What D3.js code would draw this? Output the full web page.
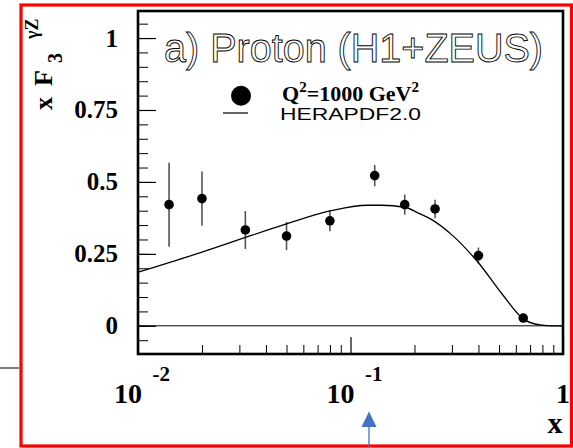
<!DOCTYPE html>
<html>
<head>
<meta charset="utf-8">
<script src="https://cdn.jsdelivr.net/npm/d3@7"></script>
<style>
  html, body { margin: 0; padding: 0; background: #fff; }
  svg { display: block; }
</style>
</head>
<body>
<svg id="chart" width="573" height="448"></svg>
<script>
// Measured xF3^{γZ} at Q^2 = 1000 GeV^2 (H1+ZEUS combined)
const dataX   = [0.014, 0.02, 0.032, 0.05, 0.08, 0.13, 0.18, 0.25, 0.40, 0.65];
const dataY   = [0.421, 0.442, 0.333, 0.312, 0.365, 0.522, 0.421, 0.406, 0.244, 0.027];
const dataErr = [0.146, 0.094, 0.066, 0.049, 0.036, 0.037, 0.035, 0.032, 0.028, 0.008];

// HERAPDF2.0 prediction
const pdfX = [0.01, 0.02, 0.032, 0.05, 0.08, 0.12, 0.14, 0.18, 0.21, 0.24, 0.30, 0.40, 0.52, 0.65, 0.78, 0.90, 1.0];
const pdfY = [0.186, 0.256, 0.307, 0.354, 0.399, 0.419, 0.419, 0.412, 0.391, 0.370, 0.316, 0.219, 0.108, 0.024, 0.003, 0.0, 0.0];

// Axis ticks
const yMajor = [0, 0.25, 0.5, 0.75, 1];
const yMajorLabels = ["0", "0.25", "0.5", "0.75", "1"];
const yMinor = d3.range(-0.05, 1.0501, 0.05);
const xMajor = [0.01, 0.1, 1];
const xMajorLabels = [["10", "-2"], ["10", "-1"], ["1", ""]];
const xMinor = [2,3,4,5,6,7,8,9].flatMap(m => [m * 0.01, m * 0.1]);

const svg = d3.select("#chart");

const x = d3.scaleLog().domain([0.01, 1]).range([138, 563]);
const y = d3.scaleLinear().domain([-0.098, 1.094]).range([354, 11]);

const bold = "'Liberation Serif', 'Times New Roman', serif";
const sans = "'Liberation Sans', Arial, sans-serif";

// Outer red border
svg.append("rect")
  .attr("x", 21).attr("y", 5).attr("width", 550.5).attr("height", 441)
  .attr("fill", "none").attr("stroke", "#ff0000").attr("stroke-width", 3.2);

// Connector line at the left
svg.append("line")
  .attr("x1", 0).attr("x2", 19.5).attr("y1", 368).attr("y2", 368)
  .attr("stroke", "#7f7f7f").attr("stroke-width", 2);

// Arrow at the bottom
svg.append("line")
  .attr("x1", 369).attr("x2", 369).attr("y1", 424).attr("y2", 448)
  .attr("stroke", "#4472c4").attr("stroke-width", 1.3);
svg.append("path")
  .attr("d", "M369,411.5 L376.5,427 L361.5,427 Z")
  .attr("fill", "#4472c4");

// Zero line
svg.append("line")
  .attr("x1", x(0.01)).attr("x2", x(1)).attr("y1", y(0)).attr("y2", y(0))
  .attr("stroke", "#000").attr("stroke-width", 1);

// Y ticks (left side only)
const yAxis = d3.axisRight(y).tickValues(yMinor).tickSize(10).tickFormat("");
svg.append("g").attr("transform", `translate(${x(0.01)},0)`).call(yAxis)
  .call(g => g.select(".domain").remove())
  .call(g => g.selectAll("line").attr("stroke", "#000").attr("stroke-width", 1));
const yAxisMaj = d3.axisRight(y).tickValues(yMajor).tickSize(18).tickFormat("");
svg.append("g").attr("transform", `translate(${x(0.01)},0)`).call(yAxisMaj)
  .call(g => g.select(".domain").remove())
  .call(g => g.selectAll("line").attr("stroke", "#000").attr("stroke-width", 1.2));

// X ticks (bottom only)
const xAxisMin = d3.axisTop(x).tickValues(xMinor).tickSize(9).tickFormat("");
svg.append("g").attr("transform", `translate(0,${y.range()[0]})`).call(xAxisMin)
  .call(g => g.select(".domain").remove())
  .call(g => g.selectAll("line").attr("stroke", "#000").attr("stroke-width", 1));
const xAxisMaj = d3.axisTop(x).tickValues(xMajor).tickSize(17).tickFormat("");
svg.append("g").attr("transform", `translate(0,${y.range()[0]})`).call(xAxisMaj)
  .call(g => g.select(".domain").remove())
  .call(g => g.selectAll("line").attr("stroke", "#000").attr("stroke-width", 1.2));

// Y tick labels
svg.append("g").selectAll("text").data(yMajor).join("text")
  .attr("x", 118).attr("y", d => y(d) + 8.5)
  .attr("text-anchor", "end")
  .attr("font-family", bold).attr("font-weight", "bold").attr("font-size", 25)
  .text((d, i) => yMajorLabels[i]);

// X tick labels (powers of ten)
const xl = svg.append("g").selectAll("g").data(xMajor).join("g");
xl.each(function(d, i) {
  const g = d3.select(this);
  const [base, exp] = xMajorLabels[i];
  if (exp) {
    g.append("text").attr("x", x(d) + 4).attr("y", 403)
      .attr("text-anchor", "end")
      .attr("font-family", bold).attr("font-weight", "bold").attr("font-size", 28)
      .text(base);
    g.append("text").attr("x", x(d) + 14.5).attr("y", 381)
      .attr("text-anchor", "start")
      .attr("font-family", bold).attr("font-weight", "bold").attr("font-size", 21)
      .text(exp);
  } else {
    g.append("text").attr("x", x(d)).attr("y", 403)
      .attr("text-anchor", "middle")
      .attr("font-family", bold).attr("font-weight", "bold").attr("font-size", 28)
      .text(base);
  }
});

// X axis title
svg.append("text").attr("x", 555).attr("y", 433)
  .attr("text-anchor", "middle")
  .attr("font-family", bold).attr("font-weight", "bold").attr("font-size", 30)
  .text("x");

// Y axis title, rotated
const yt = svg.append("text")
  .attr("transform", "translate(52,0) rotate(-90)")
  .attr("font-family", bold).attr("font-weight", "bold");
yt.append("tspan").attr("x", -110).attr("y", 0).attr("font-size", 26).text("x");
yt.append("tspan").attr("x", -86).attr("y", 0).attr("font-size", 26).text("F");
yt.append("tspan").attr("x", -63).attr("y", 10).attr("font-size", 20).text("3");
yt.append("tspan").attr("x", -39).attr("y", -14).attr("font-size", 18).text("γZ");

// Error bars
svg.append("g").selectAll("line").data(dataX).join("line")
  .attr("x1", d => x(d)).attr("x2", d => x(d))
  .attr("y1", (d, i) => y(dataY[i] + dataErr[i]))
  .attr("y2", (d, i) => y(dataY[i] - dataErr[i]))
  .attr("stroke", "#555").attr("stroke-width", 1.6);

// HERAPDF2.0 curve
const pdfPts = pdfX.map((d, i) => [d, pdfY[i]]);
svg.append("path")
  .datum(pdfPts)
  .attr("d", d3.line().x(d => x(d[0])).y(d => y(d[1])).curve(d3.curveMonotoneX))
  .attr("fill", "none").attr("stroke", "#000").attr("stroke-width", 1.3);

// Data points
svg.append("g").selectAll("circle").data(dataX).join("circle")
  .attr("cx", d => x(d)).attr("cy", (d, i) => y(dataY[i]))
  .attr("r", 4.8).attr("fill", "#000");

// Frame
svg.append("rect")
  .attr("x", x(0.01)).attr("y", y.range()[1])
  .attr("width", x(1) - x(0.01)).attr("height", y.range()[0] - y.range()[1])
  .attr("fill", "none").attr("stroke", "#000").attr("stroke-width", 2.6);

// Panel title (outlined lettering)
svg.append("text")
  .attr("x", 164).attr("y", 62)
  .attr("font-family", sans).attr("font-size", 40)
  .attr("textLength", 379).attr("lengthAdjust", "spacingAndGlyphs")
  .attr("fill", "#fff").attr("stroke", "#000").attr("stroke-width", 0.9)
  .text("a) Proton (H1+ZEUS)");

// Legend
svg.append("circle").attr("cx", 241).attr("cy", 95.7).attr("r", 10).attr("fill", "#000");
const lq = svg.append("text").attr("x", 282).attr("y", 101)
  .attr("font-family", bold).attr("font-weight", "bold").attr("font-size", 22);
lq.append("tspan").text("Q");
lq.append("tspan").attr("dy", -9).attr("font-size", 15).text("2");
lq.append("tspan").attr("dy", 9).text("=1000 GeV");
lq.append("tspan").attr("dy", -9).attr("font-size", 15).text("2");

svg.append("line").attr("x1", 223).attr("x2", 248).attr("y1", 113).attr("y2", 113)
  .attr("stroke", "#000").attr("stroke-width", 1.2);
svg.append("text").attr("x", 280).attr("y", 120)
  .attr("font-family", sans).attr("font-size", 16)
  .attr("textLength", 141).attr("lengthAdjust", "spacingAndGlyphs")
  .text("HERAPDF2.0");
</script>
</body>
</html>
